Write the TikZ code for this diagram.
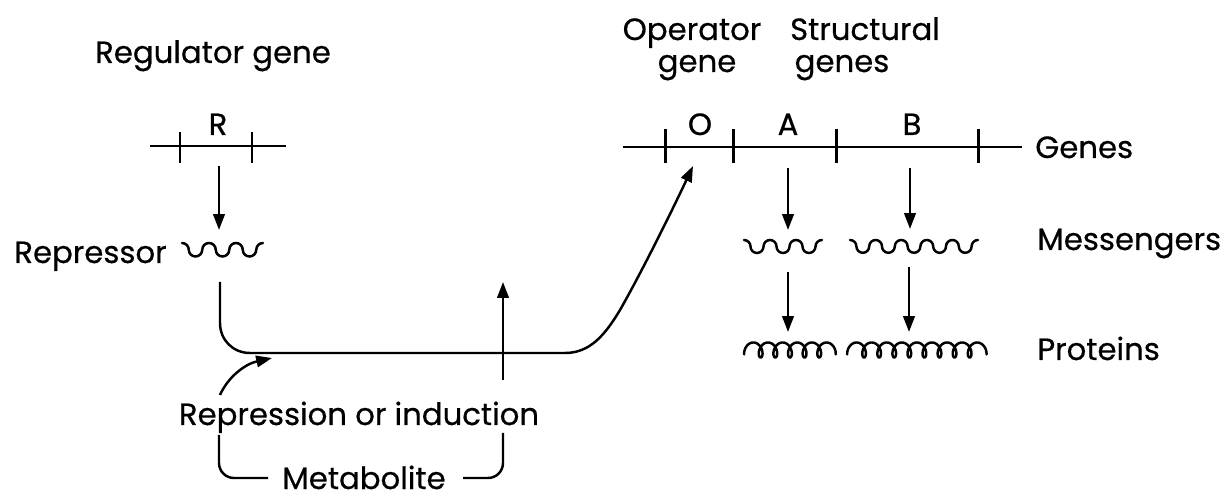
\documentclass[tikz,border=0pt]{standalone}
\usepackage{fontspec}
\setmainfont{Poppins}[FakeBold=0.5]
\usetikzlibrary{arrows.meta}
\begin{document}
\begin{tikzpicture}[x=0.02cm,y=-0.02cm,
  lbl/.style={font=\fontsize{17.5}{19}\selectfont, inner sep=0pt},
  conn/.style={line width=1.4pt, -{Triangle[length=9pt,width=6.5pt]}},
  gline/.style={line width=1.7pt},
  wave/.style={line width=1.4pt, line cap=round},
  brk/.style={line width=1.4pt, rounded corners=0.3cm},
  ucup/.style={},
]
\useasboundingbox (0,0) rectangle (1223,499);

% wavy line (messenger / repressor): #1 = left crest point, #2 = half-arc radius, #3 = number of valleys
\newcommand\wavyline[3]{%
  \begin{scope}[shift={#1}, yscale=-1]
    \draw[wave] (0,0) arc[start angle=90,end angle=0,radius=#2]
      \foreach \k in {2,...,#3} {arc[start angle=180,end angle=360,radius=#2]
                               arc[start angle=180,end angle=0,radius=#2]}
      arc[start angle=180,end angle=360,radius=#2]
      arc[start angle=180,end angle=90,radius=#2];
  \end{scope}}

% ---------- regulator gene ----------
\node[lbl, anchor=base] (reglbl) at (213,63) {Regulator gene};
\draw[gline] (150,146) -- (286,146);
\draw[gline] (180,132) -- (180,163) (252,132) -- (252,163);
\node[lbl, anchor=base] (R) at (218,135) {R};
\coordinate (rOut) at (219,166);
\coordinate (repIn) at (219,230);
\draw[conn] (rOut) -- (repIn);

% repressor
\node[lbl, anchor=base east] (repLbl) at (167,263) {Repressor};
\wavyline{(182,243)}{6.75}{3}

% ---------- operon ----------
\node[lbl, anchor=base] (opLbl) at (692,40) {Operator};
\node[lbl, anchor=base] (opLbl2) at (697,72) {gene};
\node[lbl, anchor=base] (stLbl) at (865,40) {Structural};
\node[lbl, anchor=base] (stLbl2) at (842,72) {genes};

\draw[gline] (623,147) -- (1022,147);
\foreach \t in {665,733,836,978} \draw[gline] (\t,129) -- (\t,163);
\node[lbl, anchor=base] (O) at (700,135) {O};
\node[lbl, anchor=base] (A) at (788,135) {A};
\node[lbl, anchor=base] (B) at (912,135) {B};
\node[lbl, anchor=base west] (genesLbl) at (1035,158) {Genes};

% messengers
\coordinate (aOut) at (788,168);
\coordinate (aMsgIn) at (788,230);
\coordinate (bOut) at (910,168);
\coordinate (bMsgIn) at (910,229);
\draw[conn] (aOut) -- (aMsgIn);
\draw[conn] (bOut) -- (bMsgIn);
\wavyline{(744,240)}{6.5}{3}
\wavyline{(850,240)}{6.4}{5}
\node[lbl, anchor=base west] (msgLbl) at (1037,250) {Messengers};

% proteins
\coordinate (aMsgOut) at (788,272);
\coordinate (aProtIn) at (788,332);
\coordinate (bMsgOut) at (909,267);
\coordinate (bProtIn) at (909,332);
\draw[conn] (aMsgOut) -- (aProtIn);
\draw[conn] (bMsgOut) -- (bProtIn);
\draw[wave] plot[domain=54:2106, samples=400] ({746 + 2.33*rad(\x) - 5*sin(\x)}, {350 + 7.5*cos(\x)});
\draw[wave] plot[domain=54:3186, samples=600] ({849 + 2.4*rad(\x) - 5*sin(\x)}, {350 + 7.5*cos(\x)});
\node[lbl, anchor=base west] (protLbl) at (1037,360) {Proteins};

% ---------- repressor to operator ----------
\coordinate (repOut) at (220,282);
\coordinate (opIn) at (693,166);
\draw[conn] (repOut) -- (220,323) .. controls (220,340) and (233,353) .. (250,353)
   -- (565,353)
   .. controls (590,353) and (605,335) .. (620,310)
   .. controls (640,275) and (670,215) .. (opIn);

% metabolite arrow
\coordinate (metTop) at (503,380);
\coordinate (metTip) at (503,282);
\draw[conn] (metTop) -- (metTip);

% repression or induction
\node[lbl, anchor=base] (riLbl) at (359,425) {Repression or induction};
\coordinate (riStart) at (220,395);
\coordinate (riTip) at (272,358);
\draw[conn] (riStart) .. controls (228,377) and (245,364) .. (riTip);

% metabolite bracket
\node[lbl, anchor=base] (metLbl) at (364,489) {Metabolite};
\draw[brk] (219,435) |- (268,478);
\draw[brk] (463,478) -| (503,433);
\end{tikzpicture}
\end{document}
